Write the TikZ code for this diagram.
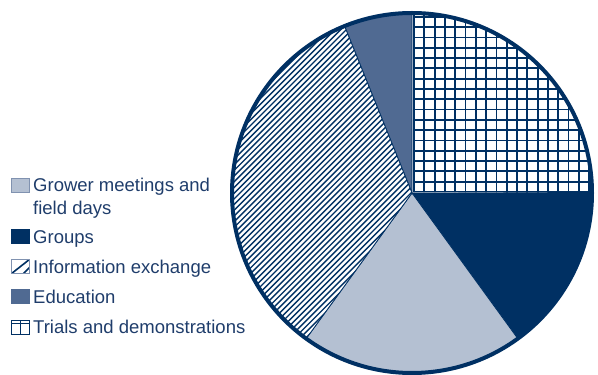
\documentclass[tikz,border=0pt]{standalone}
\usepackage{fontspec}
\setmainfont{Liberation Sans}
\usetikzlibrary{positioning}
\definecolor{navy}{RGB}{0,48,99}
\definecolor{pale}{RGB}{180,192,210}
\definecolor{slate}{RGB}{80,106,146}
\definecolor{edge}{RGB}{128,146,176}
\definecolor{txt}{RGB}{31,61,107}
\begin{document}
\begin{tikzpicture}[x=1pt,y=1pt]
\tikzstyle{every node}=[inner sep=0pt,text=txt,font=\fontsize{18.5}{22.6}\selectfont]
\tikzstyle{swatch}=[draw=edge,line width=1pt,minimum width=18pt,minimum height=14pt,anchor=south west]
\tikzstyle{slice}=[draw=navy,line width=0.8pt]
\tikzstyle{hatch}=[navy,line width=1.4pt]
\tikzstyle{grid line}=[navy,line width=1.8pt]
\useasboundingbox (0,0) rectangle (598,375);

% pie
\begin{scope}[shift={(412,182)}]
\coordinate (c) at (0,0);
\filldraw[slice,fill=navy] (c) -- (306:180) arc[start angle=306,end angle=360,radius=180] -- cycle;
\filldraw[slice,fill=pale] (c) -- (234:180) arc[start angle=234,end angle=306,radius=180] -- cycle;
\filldraw[slice,fill=slate] (c) -- (90:180) arc[start angle=90,end angle=112,radius=180] -- cycle;
% information exchange
\begin{scope}
\clip (c) -- (112:180) arc[start angle=112,end angle=234,radius=180] -- cycle;
\fill[white] (-200,-200) rectangle (10,200);
\foreach \i in {-600,-594.3,...,200}
  \draw[hatch] (\i,-200) -- ++(400,400);
\end{scope}
\draw[slice] (c) -- (112:180) arc[start angle=112,end angle=234,radius=180] -- cycle;
% trials
\begin{scope}
\clip (1,1) -- (1,180) arc[start angle=90,end angle=0,radius=180] -- cycle;
\foreach \i in {2,12.3,...,190}
  \draw[grid line] (\i,0) -- (\i,190);
\foreach \i in {1,11.3,...,190}
  \draw[grid line] (0,\i) -- (190,\i);
\end{scope}
\draw[navy,line width=4pt] (c) circle (180);
\end{scope}

% legend
\draw (11,182) node (grower) [swatch,fill=pale] {};
\draw (11,131) node (groups) [swatch,fill=navy,draw=navy] {};
\draw (11,101) node (info) [swatch,fill=white,path picture={
  \draw[navy,line width=1.6pt] (info.south west) -- (info.north east);
  \draw[navy,line width=1.6pt] ([xshift=12pt]info.south west) -- ++(14,14);}] {};
\draw (11,71) node (educ) [swatch,fill=slate,draw=slate] {};
\draw (11,40) node (trials) [swatch,fill=white,draw=navy,path picture={
  \draw[navy,line width=1.4pt] (trials.south) -- (trials.north);
  \draw[navy,line width=1pt] ([yshift=-4pt]trials.north west) -- ([yshift=-4pt]trials.north east);}] {};

\draw (33,160.7) node (growertext) [anchor=base west,align=left] {Grower meetings and\\field days};
\draw (33,131) node (groupstext) [anchor=base west] {Groups};
\draw (33,101) node (infotext) [anchor=base west] {Information exchange};
\draw (33,71) node (eductext) [anchor=base west] {Education};
\draw (33,41) node (trialstext) [anchor=base west] {Trials and demonstrations};
\end{tikzpicture}
\end{document}
